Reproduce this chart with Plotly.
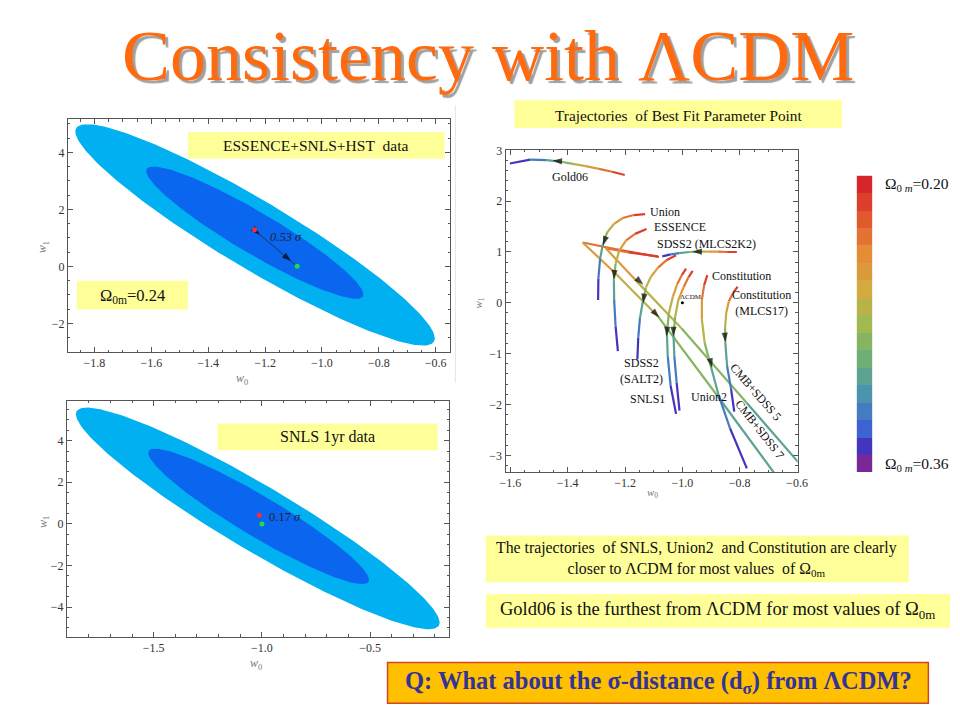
import numpy as np
import plotly.graph_objects as go
from plotly.colors import sample_colorscale

W, H = 960, 720
SERIF = "Liberation Serif, Times New Roman, serif"
NB = "\u00a0"


def PX(x):
    return x / W


def PY(y):
    return 1 - y / H


# ---------------- DATA ----------------
# Omega_0m values along each trajectory (red -> purple)
omega = [0.20, 0.22, 0.24, 0.26, 0.28, 0.30, 0.32, 0.34, 0.36]

gold06_w0 = [-1.201, -1.245, -1.291, -1.337, -1.382, -1.428, -1.474, -1.531, -1.602]
gold06_w1 = [2.513, 2.578, 2.636, 2.688, 2.734, 2.779, 2.805, 2.818, 2.740]

union_w0 = [-1.130, -1.170, -1.208, -1.239, -1.262, -1.277, -1.287, -1.293, -1.294]
union_w1 = [1.746, 1.726, 1.668, 1.551, 1.389, 1.161, 0.869, 0.479, 0.057]

essence_w0 = [-1.125, -1.165, -1.196, -1.220, -1.233, -1.239, -1.238, -1.233, -1.225]
essence_w1 = [1.454, 1.356, 1.226, 1.031, 0.771, 0.446, 0.057, -0.463, -0.951]

sdss_mlcs_w0 = [-0.810, -0.844, -0.878, -0.913, -0.941, -0.976, -1.010, -1.041, -1.070]
sdss_mlcs_w1 = [0.999, 0.999, 1.005, 1.005, 1.005, 0.999, 0.979, 0.953, 0.914]

sdss_salt_w0 = [-1.022, -1.056, -1.085, -1.110, -1.127, -1.138, -1.148, -1.154, -1.157]
sdss_salt_w1 = [0.934, 0.836, 0.693, 0.511, 0.303, 0.024, -0.301, -0.691, -1.113]

snls1_w0 = [-0.987, -1.002, -1.018, -1.033, -1.047, -1.054, -1.051, -1.041, -1.022]
snls1_w1 = [0.674, 0.544, 0.368, 0.122, -0.203, -0.593, -1.048, -1.633, -2.185]

union2_w0 = [-0.964, -0.979, -0.995, -1.014, -1.025, -1.031, -1.028, -1.020, -1.010]
union2_w1 = [0.628, 0.498, 0.316, 0.057, -0.268, -0.626, -1.048, -1.568, -2.120]

constitution_w0 = [-0.913, -0.924, -0.932, -0.932, -0.922, -0.901, -0.873, -0.833, -0.775]
constitution_w1 = [0.544, 0.349, 0.057, -0.333, -0.788, -1.243, -1.828, -2.478, -3.257]

const_mlcs17_w0 = [-0.807, -0.823, -0.838, -0.847, -0.851, -0.850, -0.844, -0.830, -0.819]
const_mlcs17_w1 = [0.316, 0.200, 0.024, -0.203, -0.496, -0.788, -1.243, -1.698, -2.140]

cmb_sdss5_w0 = [-1.085, -1.188, -1.268, -1.165, -1.004, -0.775, -0.535]
cmb_sdss5_w1 = [0.914, 0.992, 1.077, 0.456, -0.495, -1.971, -3.530]

cmb_sdss7_w0 = [-1.082, -1.211, -1.348, -1.233, -1.085, -0.878, -0.649]
cmb_sdss7_w1 = [0.901, 1.031, 1.187, 0.576, -0.268, -1.828, -3.582]

# direction arrows on trajectories (tail -> head)
arrow_tail_w0 = [-1.440, -1.272, -1.238, -0.952, -1.148, -1.089, -1.135, -1.054, -1.031, -0.900, -0.851]
arrow_tail_w1 = [2.792, 1.213, 0.544, 1.005, 0.420, -0.236, 0.076, -0.574, -0.574, -1.191, -0.691]
arrow_head_w0 = [-1.453, -1.277, -1.239, -0.965, -1.136, -1.080, -1.137, -1.055, -1.031, -0.896, -0.850]
arrow_head_w1 = [2.799, 1.129, 0.459, 1.005, 0.357, -0.288, -0.008, -0.658, -0.658, -1.276, -0.775]

# Confidence ellipses (centre, semi-major vector, semi-minor vector)
top_outer_center = [-1.235, 1.104]
top_outer_major = [0.629, -3.746]
top_outer_minor = [0.061, 1.03]
top_inner_center = [-1.236, 1.18]
top_inner_major = [0.380, -2.236]
top_inner_minor = [0.037, 0.63]

bot_outer_center = [-1.019, 0.264]
bot_outer_major = [0.837, -5.15]
bot_outer_minor = [0.077, 1.35]
bot_inner_center = [-1.015, 0.36]
bot_inner_major = [0.508, -3.145]
bot_inner_minor = [0.048, 0.84]

top_best = [-1.237, 1.28]
top_lcdm = [-1.087, 0.0]
top_arrow_w0 = [-1.218, -1.108]
top_arrow_w1 = [1.108, 0.179]

bot_best = [-1.012, 0.42]
bot_lcdm = [-1.0, 0.0]

colorbar_levels = [0.20, 0.21, 0.22, 0.23, 0.24, 0.25, 0.26, 0.27, 0.28,
                   0.29, 0.30, 0.31, 0.32, 0.33, 0.34, 0.35, 0.36]

omega_scale = [
    [0.0, "rgb(215,38,43)"],
    [0.125, "rgb(224,90,46)"],
    [0.25, "rgb(228,140,56)"],
    [0.375, "rgb(210,170,64)"],
    [0.5, "rgb(160,185,80)"],
    [0.625, "rgb(110,175,118)"],
    [0.75, "rgb(75,148,175)"],
    [0.875, "rgb(62,98,210)"],
    [0.9375, "rgb(68,52,190)"],
    [1.0, "rgb(122,40,150)"],
]

trajectories = [
    (gold06_w0, gold06_w1), (union_w0, union_w1), (essence_w0, essence_w1),
    (sdss_mlcs_w0, sdss_mlcs_w1), (sdss_salt_w0, sdss_salt_w1),
    (snls1_w0, snls1_w1), (union2_w0, union2_w1),
    (constitution_w0, constitution_w1), (const_mlcs17_w0, const_mlcs17_w1),
    (cmb_sdss5_w0, cmb_sdss5_w1), (cmb_sdss7_w0, cmb_sdss7_w1),
]


def om_color(o):
    return sample_colorscale(omega_scale, [(o - 0.20) / 0.16])[0]


def ellipse(center, major, minor, n=240):
    t = np.linspace(0, 2 * np.pi, n)
    x = center[0] + np.cos(t) * major[0] + np.sin(t) * minor[0]
    y = center[1] + np.cos(t) * major[1] + np.sin(t) * minor[1]
    return x, y


fig = go.Figure()

OUTER = "#00B0F0"
INNER = "#0A66EE"

# ---- top-left panel ----
for c, ma, mi, col in [(top_outer_center, top_outer_major, top_outer_minor, OUTER),
                       (top_inner_center, top_inner_major, top_inner_minor, INNER)]:
    ex, ey = ellipse(c, ma, mi)
    fig.add_trace(go.Scatter(x=ex, y=ey, fill="toself", fillcolor=col, mode="lines",
                             line=dict(width=0, color=col), xaxis="x", yaxis="y",
                             hoverinfo="skip", showlegend=False))

fig.add_trace(go.Scatter(
    x=[top_best[0]] + top_arrow_w0 + [top_lcdm[0]],
    y=[top_best[1]] + top_arrow_w1 + [top_lcdm[1]],
    mode="lines+markers", line=dict(color="#222", width=0.7),
    marker=dict(symbol="arrow", size=[0, 10, 10, 0], color="black", angleref="previous",
                line=dict(width=0)),
    xaxis="x", yaxis="y", hoverinfo="skip", showlegend=False))
fig.add_trace(go.Scatter(x=[top_best[0]], y=[top_best[1]], mode="markers",
                         marker=dict(color="#ff2a3c", size=5), xaxis="x", yaxis="y",
                         hoverinfo="skip", showlegend=False))
fig.add_trace(go.Scatter(x=[top_lcdm[0]], y=[top_lcdm[1]], mode="markers",
                         marker=dict(color="#22dd44", size=5), xaxis="x", yaxis="y",
                         hoverinfo="skip", showlegend=False))

# ---- bottom-left panel ----
for c, ma, mi, col in [(bot_outer_center, bot_outer_major, bot_outer_minor, OUTER),
                       (bot_inner_center, bot_inner_major, bot_inner_minor, INNER)]:
    ex, ey = ellipse(c, ma, mi)
    fig.add_trace(go.Scatter(x=ex, y=ey, fill="toself", fillcolor=col, mode="lines",
                             line=dict(width=0, color=col), xaxis="x2", yaxis="y2",
                             hoverinfo="skip", showlegend=False))
fig.add_trace(go.Scatter(x=[bot_best[0]], y=[bot_best[1]], mode="markers",
                         marker=dict(color="#ff2a3c", size=5), xaxis="x2", yaxis="y2",
                         hoverinfo="skip", showlegend=False))
fig.add_trace(go.Scatter(x=[bot_lcdm[0]], y=[bot_lcdm[1]], mode="markers",
                         marker=dict(color="#22dd44", size=5), xaxis="x2", yaxis="y2",
                         hoverinfo="skip", showlegend=False))

# ---- right panel: trajectories coloured by Omega_0m ----
for k in range(len(omega) - 1):
    xs, ys = [], []
    for w0s, w1s in trajectories:
        if k + 1 < len(w0s):
            xs += [w0s[k], w0s[k + 1], None]
            ys += [w1s[k], w1s[k + 1], None]
    fig.add_trace(go.Scatter(x=xs, y=ys, mode="lines",
                             line=dict(color=om_color((omega[k] + omega[k + 1]) / 2), width=2.2),
                             xaxis="x3", yaxis="y3", hoverinfo="skip", showlegend=False))

ax_x, ax_y, sizes = [], [], []
for tx, ty, hx, hy in zip(arrow_tail_w0, arrow_tail_w1, arrow_head_w0, arrow_head_w1):
    ax_x += [tx, hx, None]
    ax_y += [ty, hy, None]
    sizes += [0, 10, 0]
fig.add_trace(go.Scatter(x=ax_x, y=ax_y, mode="markers",
                         marker=dict(symbol="arrow", size=sizes, color="black",
                                     angleref="previous", line=dict(width=0)),
                         xaxis="x3", yaxis="y3", hoverinfo="skip", showlegend=False))

fig.add_trace(go.Scatter(x=[-1.0], y=[0.0], mode="markers",
                         marker=dict(color="black", size=3), xaxis="x3", yaxis="y3",
                         hoverinfo="skip", showlegend=False))

# ---- colour bar ----
fig.add_trace(go.Heatmap(x=[0], y=colorbar_levels, z=[[v] for v in colorbar_levels],
                         colorscale=omega_scale, zmin=0.20, zmax=0.36, showscale=False,
                         xaxis="x4", yaxis="y4", hoverinfo="skip"))


# ---------------- LAYOUT ----------------
def axstyle(domain, rng, anchor, dtick, minor_dtick, fmt=None):
    d = dict(domain=domain, range=rng, anchor=anchor, showline=True, linecolor="#555",
             linewidth=1, mirror="allticks", ticks="inside", ticklen=5, tickcolor="#555",
             tickfont=dict(family=SERIF, size=12, color="#333"), showgrid=False,
             zeroline=False, dtick=dtick, tick0=0,
             minor=dict(ticks="inside", ticklen=2.5, tickcolor="#555", dtick=minor_dtick))
    if fmt:
        d["tickformat"] = fmt
    return d


fig.update_layout(
    width=W, height=H, margin=dict(l=0, r=0, t=0, b=0),
    paper_bgcolor="white", plot_bgcolor="white", hovermode=False,
    xaxis=axstyle([PX(63), PX(452)], [-1.893, -0.548], "y", 0.2, 0.05, ".1f"),
    yaxis=axstyle([PY(349), PY(114)], [-3.01, 5.17], "x", 2, 0.5),
    xaxis2=axstyle([PX(62), PX(451)], [-1.901, -0.133], "y2", 0.5, 0.1, ".1f"),
    yaxis2=axstyle([PY(636), PY(398)], [-5.42, 5.92], "x2", 2, 0.5),
    xaxis3=axstyle([PX(508), PX(805)], [-1.617, -0.598], "y3", 0.2, 0.05, ".1f"),
    yaxis3=axstyle([PY(470), PY(145)], [-3.33, 3.01], "x3", 1, 0.2),
    xaxis4=dict(domain=[PX(865), PX(881)], visible=False, anchor="y4"),
    yaxis4=dict(domain=[PY(470), PY(171)], visible=False, anchor="x4",
                autorange="reversed"),
)

shapes = []
ann = []


def box(x0, y0, x1, y1, fill="#FFFF99", line=None):
    shapes.append(dict(type="rect", xref="paper", yref="paper", x0=PX(x0), x1=PX(x1),
                       y0=PY(y1), y1=PY(y0), fillcolor=fill, layer="above",
                       line=dict(width=line[1] if line else 0,
                                 color=line[0] if line else fill)))


def text(x, y, s, size, color="#111", xanchor="center", bold=False, family=SERIF,
         shadow=None, **kw):
    if bold:
        s = "<b>" + s + "</b>"
    f = dict(family=family, size=size, color=color)
    if shadow:
        f["shadow"] = shadow
    ann.append(dict(xref="paper", yref="paper", x=PX(x), y=PY(y), text=s, showarrow=False,
                    xanchor=xanchor, yanchor="middle", font=f, **kw))


def dtext(x, y, s, size, xr, yr, xanchor="center", color="#111", **kw):
    ann.append(dict(xref=xr, yref=yr, x=x, y=y, text=s, showarrow=False, xanchor=xanchor,
                    yanchor="middle", font=dict(family=SERIF, size=size, color=color), **kw))


# faint edge of the embedded picture
shapes.append(dict(type="line", xref="paper", yref="paper", x0=PX(457), x1=PX(457),
                   y0=PY(380), y1=PY(100), line=dict(color="#e4e4e4", width=1)))

# Title with shadow
text(490, 50, "Consistency with ΛCDM", 72, color="#FF6A0E", shadow="3px 3px 1px #A0A0A0")

# top-left boxes
box(185, 127, 446, 154)
text(315.5, 141, "ESSENCE+SNLS+HST" + NB + " data", 15.5)
box(72, 277, 185, 306)
text(128.5, 292, "Ω<sub>0m</sub>=0.24", 16.5)

# bottom-left box
box(215, 421, 439, 448)
text(327, 435, "SNLS 1yr data", 16)

# right title box
box(517, 95, 850, 123)
text(684, 110, "Trajectories" + NB + " of Best Fit Parameter Point", 15.3)

# bottom-right boxes
box(488, 534, 918, 581)
text(702, 557.5, "The trajectories" + NB + " of SNLS, Union2" + NB + " and Constitution are clearly<br>"
     "closer to ΛCDM for most values" + NB + " of Ω<sub>0m</sub>", 15.8)
box(488, 593, 960, 627)
text(724, 610, "Gold06 is the furthest from ΛCDM for most values of Ω<sub>0m</sub>", 18.5)

# Q box
box(388, 662, 938, 703, fill="#FFC000", line=("#D0452A", 1.5))
text(664, 682, "Q: What about the σ-distance (d<sub>σ</sub>) from ΛCDM?", 24.5,
     color="#333399", bold=True)

# sigma labels
dtext(-1.188, 1.03, "<i>0.53 σ</i>", 12.5, "x", "y", xanchor="left", color="#223")
dtext(-0.977, 0.335, "0.17 <i>σ</i>", 12.5, "x2", "y2", xanchor="left", color="#223")

# axis titles
AX = "#777"
text(240, 376, "<i>w</i><sub>0</sub>", 12, color=AX)
text(38, 243, "<i>w</i><sub>1</sub>", 12, color=AX, textangle=-90)
text(254, 664, "<i>w</i><sub>0</sub>", 12, color=AX)
text(38, 520, "<i>w</i><sub>1</sub>", 12, color=AX, textangle=-90)
text(657, 491, "<i>w</i><sub>0</sub>", 11, color=AX)
text(480, 300, "<i>w</i><sub>1</sub>", 11, color=AX, textangle=-90)

# trajectory labels
LS = 12
dtext(-1.392, 2.48, "Gold06", LS, "x3", "y3")
dtext(-1.121, 1.778, "Union", LS, "x3", "y3", xanchor="left")
dtext(-1.107, 1.486, "ESSENCE", LS, "x3", "y3", xanchor="left")
dtext(-1.096, 1.161, "SDSS2 (MLCS2K2)", LS, "x3", "y3", xanchor="left")
dtext(-0.904, 0.531, "Constitution", LS, "x3", "y3", xanchor="left")
dtext(-0.724, -0.008, "Constitution<br>(MLCS17)", LS, "x3", "y3")
dtext(-1.016, 0.12, "ΛCDM", 7, "x3", "y3", xanchor="left")
dtext(-1.142, -1.34, "SDSS2<br>(SALT2)", LS, "x3", "y3")
dtext(-1.120, -1.893, "SNLS1", LS, "x3", "y3")
dtext(-0.976, -1.86, "Union2", LS, "x3", "y3", xanchor="left")
dtext(-0.745, -1.76, "CMB+SDSS 5", LS, "x3", "y3", textangle=49)
dtext(-0.732, -2.49, "CMB+SDSS 7", LS, "x3", "y3", textangle=52)

# colour bar labels
text(892, 180, "Ω<sub>0 <i>m</i></sub>=0.20", 15.5, xanchor="left")
text(892, 462, "Ω<sub>0 <i>m</i></sub>=0.36", 15.5, xanchor="left")

fig.update_layout(shapes=shapes, annotations=ann)
fig.write_html("out.html", config={"displayModeBar": False},
               post_script="document.body.style.margin='0';document.body.style.overflow='hidden';")
